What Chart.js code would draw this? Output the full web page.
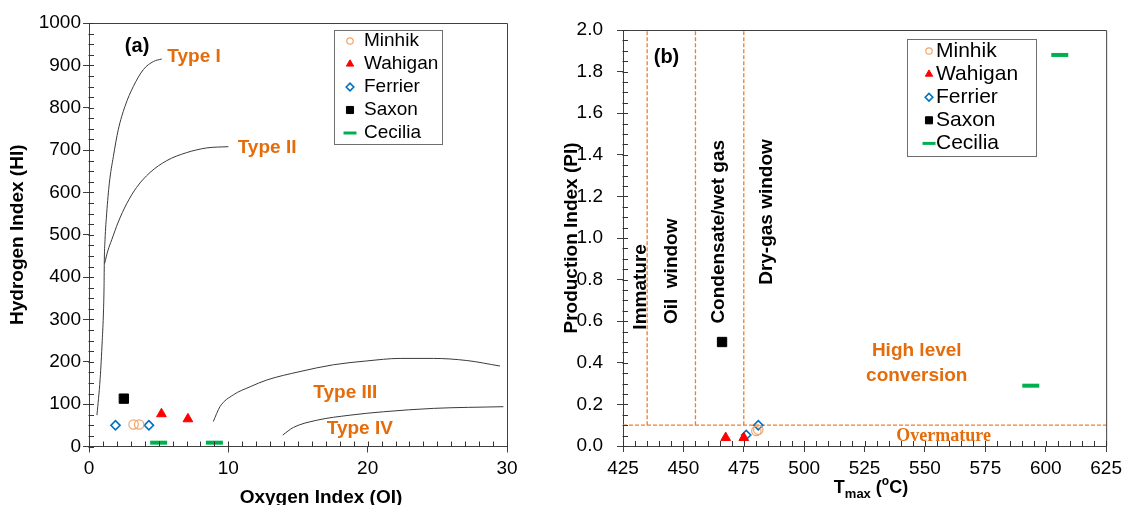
<!DOCTYPE html>
<html>
<head>
<meta charset="utf-8">
<script src="https://cdn.jsdelivr.net/npm/chart.js@4.4.1/dist/chart.umd.min.js"></script>
<style>
body { margin: 0; background: #fff; }
#wrap { position: relative; width: 1127px; height: 505px; overflow: hidden; }
#chartA { position: absolute; left: 0; top: 0; }
#chartB { position: absolute; left: 560px; top: 0; }
</style>
</head>
<body>
<div id="wrap">
<canvas id="chartA" width="560" height="505"></canvas>
<canvas id="chartB" width="567" height="505"></canvas>
</div>
<script>
// ---- (a) HI vs OI ----
const minhikOI = [3.2, 3.6];
const minhikHI = [52, 52];
const wahiganOI = [5.2, 7.1];
const wahiganHI = [77, 65];
const ferrierOI = [1.9, 4.3];
const ferrierHI = [50, 50];
const saxonOI = [2.5];
const saxonHI = [113];
const ceciliaOI = [5.0, 9.0];
const ceciliaHI = [9, 9];

// kerogen type curves
const type1OI = [0.57, 0.8, 0.95, 1.04, 1.08, 1.1, 1.15, 1.27, 1.46, 1.75, 2.1, 2.58, 3.18, 3.9, 4.62, 5.22];
const type1HI = [74, 160, 250, 320, 378, 441, 488, 551, 622, 685, 748, 803, 850, 890, 909, 915];
const type2OI = [1.12, 1.35, 1.63, 2.1, 2.7, 3.42, 4.38, 5.58, 7.01, 8.45, 10.0];
const type2HI = [432, 462, 488, 530, 573, 612, 647, 675, 694, 705, 708];
const type3OI = [8.92, 9.4, 10.36, 11.56, 12.76, 15.15, 17.54, 19.93, 22.33, 24.72, 27.12, 29.5];
const type3HI = [59, 94, 122, 141, 157, 177, 193, 202, 208, 208, 203, 190];
const type4OI = [13.9, 14.67, 16.35, 18.74, 21.13, 24.72, 29.74];
const type4HI = [27, 45, 62, 74, 82, 90, 94];

const typeLabels = ['Type I', 'Type II', 'Type III', 'Type IV'];
const typeLabelOI = [5.62, 10.67, 16.1, 17.06];
const typeLabelHI = [921, 706, 128, 41];

// ---- (b) PI vs Tmax ----
const minhikTmax = [480.2, 481.0];
const minhikPI = [0.072, 0.078];
const wahiganTmax = [467.5, 475];
const wahiganPI = [0.04, 0.04];
const ferrierTmax = [476.0, 481.0];
const ferrierPI = [0.053, 0.10];
const saxonTmax = [466];
const saxonPI = [0.5];
const ceciliaTmax = [605.8, 593.8];
const ceciliaPI = [1.88, 0.29];

const windowTmax = [435, 455, 475];
const overmaturePI = 0.1;

const zoneLabels = ['Immature', 'Oil  window', 'Condensate/wet gas', 'Dry-gas window'];
const zoneLabelTmax = [432.4, 445.1, 464.8, 484.5];
const zoneLabelPI = [0.765, 0.84, 1.03, 1.125];

const seriesNames = ['Minhik', 'Wahigan', 'Ferrier', 'Saxon', 'Cecilia'];

const FONT = "'Liberation Sans', Arial, sans-serif";
const axisColor = '#404040';
const orange = '#E46C0A';

const markerStyles = {
    Minhik:  { pointStyle: 'circle',   radius: 4.7, legendRadius: 3.2, color: '#F2A46B', fill: 'rgba(0,0,0,0)', borderWidth: 1.2 },
    Wahigan: { pointStyle: 'triangle', radius: 5.6, legendRadius: 4.2, color: '#FF0000', fill: '#FF0000', borderWidth: 1 },
    Ferrier: { pointStyle: 'rectRot',  radius: 4.6, legendRadius: 3.8, color: '#0070C0', fill: 'rgba(0,0,0,0)', borderWidth: 1.6 },
    Saxon:   { pointStyle: 'rect',     radius: 6.6, legendRadius: 5.0, color: '#000000', fill: '#000000', borderWidth: 1 },
    Cecilia: { pointStyle: 'line',     radius: 8.5, legendRadius: 6.5, color: '#00B050', fill: '#00B050', borderWidth: 4 }
};

function pts(xs, ys) {
    return xs.map((v, i) => ({ x: v, y: ys[i] }));
}

function markerDataset(name, xs, ys) {
    const m = markerStyles[name];
    return {
        label: name,
        data: pts(xs, ys),
        showLine: false,
        pointStyle: m.pointStyle,
        pointRadius: m.radius,
        pointBorderWidth: m.borderWidth,
        pointBorderColor: m.color,
        pointBackgroundColor: m.fill,
        clip: false,
        order: 0
    };
}

function curveDataset(xs, ys) {
    return {
        data: pts(xs, ys),
        showLine: true,
        borderColor: '#3a3a3a',
        borderWidth: 1,
        pointRadius: 0,
        cubicInterpolationMode: 'monotone',
        fill: false,
        order: 2
    };
}

function dashedDataset(xs, ys) {
    return {
        data: pts(xs, ys),
        showLine: true,
        borderColor: '#ED7D31',
        borderWidth: 1.3,
        borderDash: [4, 2],
        pointRadius: 0,
        tension: 0,
        fill: false,
        order: 3
    };
}

// frame on top/right plus inward ticks (major + minor)
function makeFrameTicks(xMinor, yMinor, len) {
    return {
        id: 'frameTicks',
        afterDraw(chart) {
            const ctx = chart.ctx;
            const a = chart.chartArea;
            const x = chart.scales.x, y = chart.scales.y;
            ctx.save();
            ctx.strokeStyle = axisColor;
            ctx.lineWidth = 1;
            ctx.setLineDash([]);
            ctx.beginPath();
            ctx.moveTo(a.left, a.top + 0.5);
            ctx.lineTo(a.right + 0.5, a.top + 0.5);
            ctx.lineTo(a.right + 0.5, a.bottom);
            ctx.stroke();
            ctx.strokeStyle = '#333';
            ctx.beginPath();
            const nx = Math.round((x.max - x.min) / xMinor);
            for (let i = 0; i <= nx; i++) {
                const px = Math.round(x.getPixelForValue(x.min + i * xMinor)) + 0.5;
                ctx.moveTo(px, a.bottom + 0.5);
                ctx.lineTo(px, a.bottom - len);
            }
            const ny = Math.round((y.max - y.min) / yMinor);
            for (let i = 0; i <= ny; i++) {
                const py = Math.round(y.getPixelForValue(y.min + i * yMinor)) + 0.5;
                ctx.moveTo(a.left - 0.5, py);
                ctx.lineTo(a.left + len, py);
            }
            ctx.stroke();
            ctx.restore();
        }
    };
}

// text placed in data coordinates
const annotations = {
    id: 'annotations',
    afterDatasetsDraw(chart, args, o) {
        const { ctx, scales: { x, y } } = chart;
        o.items.forEach(t => {
            ctx.save();
            ctx.font = t.font;
            ctx.fillStyle = t.color;
            ctx.textAlign = t.align || 'left';
            ctx.textBaseline = 'middle';
            ctx.translate(x.getPixelForValue(t.x), y.getPixelForValue(t.y));
            if (t.rotate) ctx.rotate(t.rotate);
            ctx.fillText(t.text, 0, 0);
            ctx.restore();
        });
    }
};

// x axis titles (rich text for Tmax)
const xTitle = {
    id: 'xTitle',
    afterDraw(chart, args, o) {
        const ctx = chart.ctx;
        ctx.save();
        ctx.fillStyle = '#000';
        ctx.textBaseline = 'alphabetic';
        ctx.textAlign = 'left';
        let total = 0;
        o.parts.forEach(p => { ctx.font = p.font; total += ctx.measureText(p.text).width; });
        let cx = o.centerX - total / 2;
        o.parts.forEach(p => {
            ctx.font = p.font;
            ctx.fillText(p.text, cx, o.baseline + (p.dy || 0));
            cx += ctx.measureText(p.text).width;
        });
        ctx.restore();
    }
};

// boxed legend in the plot corner
const boxLegend = {
    id: 'boxLegend',
    afterDraw(chart, args, o) {
        const ctx = chart.ctx;
        const drawPoint = Chart.helpers.drawPoint;
        ctx.save();
        ctx.fillStyle = '#fff';
        ctx.fillRect(o.left, o.top, o.width, o.height);
        ctx.strokeStyle = '#6f6f6f';
        ctx.lineWidth = 1;
        ctx.strokeRect(o.left + 0.5, o.top + 0.5, o.width, o.height);
        seriesNames.forEach((name, i) => {
            const m = markerStyles[name];
            const cy = o.firstRow + i * o.rowStep;
            ctx.fillStyle = m.fill;
            ctx.strokeStyle = m.color;
            ctx.lineWidth = name === 'Cecilia' ? 3 : m.borderWidth;
            drawPoint(ctx, { pointStyle: m.pointStyle, radius: m.legendRadius, rotation: 0, borderWidth: ctx.lineWidth }, o.markerX, cy);
            ctx.fillStyle = '#000';
            ctx.font = o.font;
            ctx.textAlign = 'left';
            ctx.textBaseline = 'middle';
            ctx.fillText(name, o.textX, cy);
        });
        ctx.restore();
    }
};

function axisGrid() {
    return { drawOnChartArea: false, drawTicks: true, tickLength: 6, color: axisColor, lineWidth: 1 };
}

// ---------------- chart (a) ----------------
new Chart(document.getElementById('chartA'), {
    type: 'scatter',
    data: {
        datasets: [
            markerDataset('Minhik', minhikOI, minhikHI),
            markerDataset('Wahigan', wahiganOI, wahiganHI),
            markerDataset('Ferrier', ferrierOI, ferrierHI),
            markerDataset('Saxon', saxonOI, saxonHI),
            markerDataset('Cecilia', ceciliaOI, ceciliaHI),
            curveDataset(type1OI, type1HI),
            curveDataset(type2OI, type2HI),
            curveDataset(type3OI, type3HI),
            curveDataset(type4OI, type4HI)
        ]
    },
    options: {
        responsive: false,
        animation: false,
        events: [],
        layout: { padding: { left: 0, right: 53, top: 23, bottom: 0 } },
        scales: {
            x: {
                type: 'linear', min: 0, max: 30,
                afterFit: s => { s.height = 58.5; },
                border: { display: true, color: axisColor, width: 1 },
                grid: axisGrid(),
                ticks: { stepSize: 10, font: { family: FONT, size: 19 }, color: '#000', padding: 5, maxRotation: 0 }
            },
            y: {
                min: 0, max: 1000,
                afterFit: s => { s.width = 89; },
                border: { display: true, color: axisColor, width: 1 },
                grid: axisGrid(),
                ticks: { stepSize: 100, font: { family: FONT, size: 19 }, color: '#000', padding: 2, callback: v => String(v) },
                title: { display: true, text: 'Hydrogen Index (HI)', color: '#000', font: { family: FONT, size: 19, weight: 'bold' }, padding: { top: 6, bottom: 0 } }
            }
        },
        plugins: {
            legend: { display: false },
            tooltip: { enabled: false },
            annotations: {
                items: typeLabels.map((t, i) => ({
                    text: t, x: typeLabelOI[i], y: typeLabelHI[i],
                    font: 'bold 19px ' + FONT, color: orange
                })).concat([{ text: '(a)', x: 3.45, y: 945, align: 'center', font: 'bold 20px ' + FONT, color: '#000' }])
            },
            xTitle: { centerX: 321, baseline: 503, parts: [{ text: 'Oxygen Index (OI)', font: 'bold 19px ' + FONT }] },
            boxLegend: { left: 334, top: 30, width: 108, height: 114, firstRow: 41, rowStep: 23, markerX: 350, textX: 364, font: '19px ' + FONT }
        }
    },
    plugins: [makeFrameTicks(1, 25, 5), annotations, xTitle, boxLegend]
});

// ---------------- chart (b) ----------------
new Chart(document.getElementById('chartB'), {
    type: 'scatter',
    data: {
        datasets: [
            markerDataset('Minhik', minhikTmax, minhikPI),
            markerDataset('Wahigan', wahiganTmax, wahiganPI),
            markerDataset('Ferrier', ferrierTmax, ferrierPI),
            markerDataset('Saxon', saxonTmax, saxonPI),
            markerDataset('Cecilia', ceciliaTmax, ceciliaPI)
        ].concat(windowTmax.map(t => dashedDataset([t, t], [overmaturePI, 2])))
         .concat([dashedDataset([425, 625], [overmaturePI, overmaturePI])])
    },
    options: {
        responsive: false,
        animation: false,
        events: [],
        layout: { padding: { left: 0, right: 17, top: 30, bottom: 0 } },
        scales: {
            x: {
                type: 'linear', min: 425, max: 625,
                afterFit: s => { s.height = 59; },
                border: { display: true, color: axisColor, width: 1 },
                grid: axisGrid(),
                ticks: { stepSize: 25, font: { family: FONT, size: 19 }, color: '#000', padding: 5, maxRotation: 0 }
            },
            y: {
                min: 0, max: 2,
                afterFit: s => { s.width = 63; },
                border: { display: true, color: axisColor, width: 1 },
                grid: axisGrid(),
                ticks: { stepSize: 0.2, font: { family: FONT, size: 19 }, color: '#000', padding: 14, callback: v => v.toFixed(1) },
                title: { display: true, text: 'Production Index (PI)', color: '#000', font: { family: FONT, size: 19, weight: 'bold' }, padding: { top: 0, bottom: 0 } }
            }
        },
        plugins: {
            legend: { display: false },
            tooltip: { enabled: false },
            annotations: {
                items: zoneLabels.map((t, i) => ({
                    text: t, x: zoneLabelTmax[i], y: zoneLabelPI[i], align: 'center', rotate: -Math.PI / 2,
                    font: 'bold 19px ' + FONT, color: '#000'
                })).concat([
                    { text: '(b)', x: 443, y: 1.87, align: 'center', font: 'bold 20px ' + FONT, color: '#000' },
                    { text: 'High level', x: 546.6, y: 0.46, align: 'center', font: 'bold 19px ' + FONT, color: orange },
                    { text: 'conversion', x: 546.6, y: 0.34, align: 'center', font: 'bold 19px ' + FONT, color: orange },
                    { text: 'Overmature', x: 557.7, y: 0.048, align: 'center', font: "bold 18px 'Liberation Serif', 'Times New Roman', serif", color: orange }
                ])
            },
            xTitle: {
                centerX: 311, baseline: 493,
                parts: [
                    { text: 'T', font: 'bold 18px ' + FONT },
                    { text: 'max', font: 'bold 13px ' + FONT, dy: 5 },
                    { text: ' (', font: 'bold 18px ' + FONT },
                    { text: 'o', font: 'bold 12px ' + FONT, dy: -8 },
                    { text: 'C)', font: 'bold 18px ' + FONT }
                ]
            },
            boxLegend: { left: 347, top: 39, width: 129, height: 117, firstRow: 51, rowStep: 23.1, markerX: 369, textX: 376, font: '21px ' + FONT }
        }
    },
    plugins: [makeFrameTicks(5, 0.05, 5), annotations, xTitle, boxLegend]
});
</script>
</body>
</html>
